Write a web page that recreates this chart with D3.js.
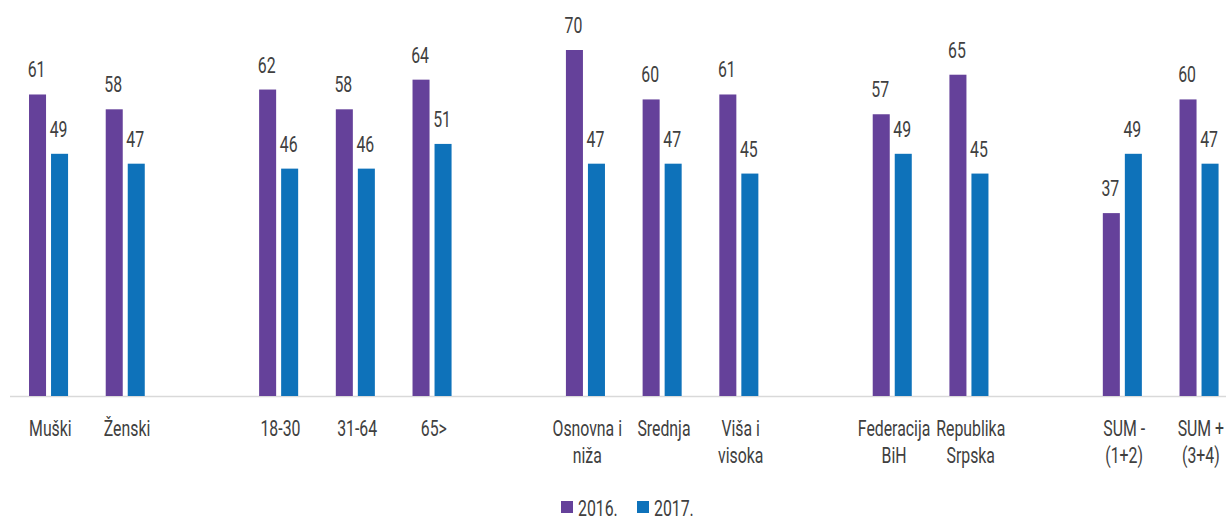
<!DOCTYPE html>
<html>
<head>
<meta charset="utf-8">
<script src="https://cdn.jsdelivr.net/npm/d3@7"></script>
<style>
  body { margin: 0; background: #fff; }
  svg text { font-family: Roboto, "Noto Sans", sans-serif; fill: #404040; font-size: 22px; }
</style>
</head>
<body>
<svg id="chart"></svg>
<script>
const width = 1226;
const height = 521;

// Category groups (the chart leaves an empty slot between groups)
const groups = [
  ["Muški", "Ženski"],
  ["18-30", "31-64", "65>"],
  ["Osnovna i|niža", "Srednja", "Viša i|visoka"],
  ["Federacija|BiH", "Republika|Srpska"],
  ["SUM -|(1+2)", "SUM +|(3+4)"]
];
const series = ["2016.", "2017."];
const values2016 = [61, 58, 62, 58, 64, 70, 60, 61, 57, 65, 37, 60];
const values2017 = [49, 47, 46, 46, 51, 47, 47, 45, 49, 45, 49, 47];
const colors = ["#65419a", "#0e72ba"];

// No condensed font is installed, so squeeze text horizontally
const squeeze = 0.72;

// Build the band domain with spacer keys between groups
const domain = [];
groups.forEach((g, i) => {
  if (i > 0) domain.push("gap" + i);
  g.forEach((c) => domain.push(c));
});
const categories = groups.flat();
const data = categories.map((c, i) => ({
  name: c,
  values: [values2016[i], values2017[i]]
}));

const svg = d3.select("#chart").attr("width", width).attr("height", height);

const x = d3.scaleBand().domain(domain).range([10, 10 + 76.7 * domain.length]);
const x1 = d3.scaleBand().domain(series)
  .range([x.bandwidth() * 0.248, x.bandwidth() * 0.757])
  .paddingInner(0.227);
const y = d3.scaleLinear().domain([0, 70]).range([396, 50]);

// Baseline
svg.append("line")
  .attr("x1", 10).attr("x2", width)
  .attr("y1", y(0) + 0.5).attr("y2", y(0) + 0.5)
  .attr("stroke", "#d9d9d9").attr("stroke-width", 1.5);

const cat = svg.selectAll(".cat")
  .data(data)
  .enter()
  .append("g")
  .attr("class", "cat")
  .attr("transform", (d) => `translate(${x(d.name)},0)`);

const bars = cat.selectAll(".bar")
  .data((d) => d.values.map((v, i) => ({ v, s: series[i], i })))
  .enter();

bars.append("rect")
  .attr("x", (d) => x1(d.s))
  .attr("width", x1.bandwidth())
  .attr("y", (d) => y(d.v))
  .attr("height", (d) => y(0) - y(d.v))
  .attr("fill", (d) => colors[d.i]);

bars.append("text")
  .attr("transform", (d) =>
    `translate(${x1(d.s) + x1.bandwidth() / 2 - 1},${y(d.v) - 17}) scale(${squeeze},1)`)
  .attr("text-anchor", "middle")
  .text((d) => d.v);

// Category labels, wrapped on "|"
cat.append("text")
  .attr("transform", `translate(${x.bandwidth() / 2 + 2},0) scale(${squeeze},1)`)
  .attr("text-anchor", "middle")
  .selectAll("tspan")
  .data((d) => d.name.split("|"))
  .enter()
  .append("tspan")
  .attr("x", 0)
  .attr("y", (d, i) => 436 + i * 27)
  .text((d) => d);

// Legend
const legend = svg.append("g").attr("transform", "translate(561,0)");
const item = legend.selectAll(".item")
  .data(series)
  .enter()
  .append("g")
  .attr("transform", (d, i) => `translate(${i * 76},0)`);
item.append("rect")
  .attr("y", 501).attr("width", 12).attr("height", 12)
  .attr("fill", (d, i) => colors[i]);
item.append("text")
  .attr("transform", `translate(17,515.5) scale(${squeeze},1)`)
  .text((d) => d);
</script>
</body>
</html>
